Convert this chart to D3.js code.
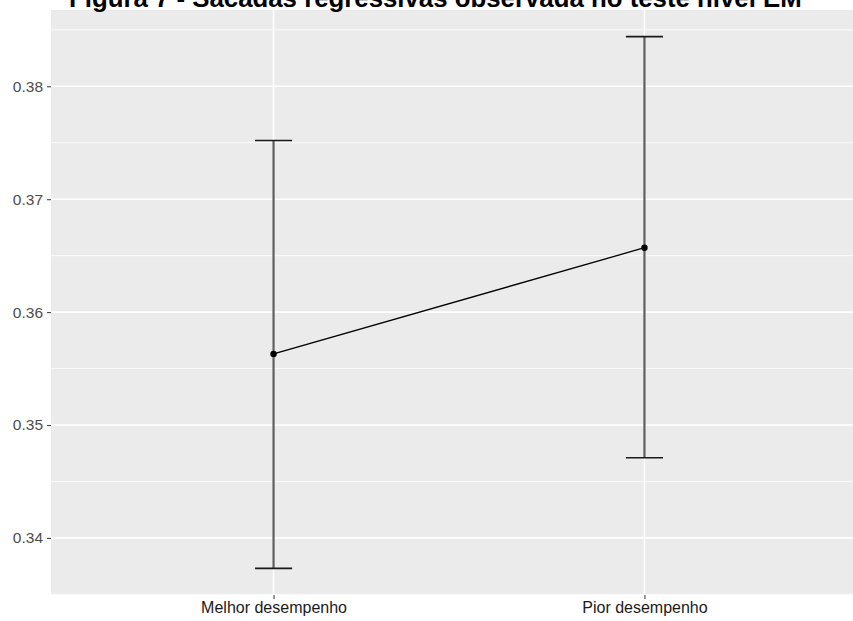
<!DOCTYPE html>
<html>
<head>
<meta charset="utf-8">
<script src="https://cdn.jsdelivr.net/npm/d3@7"></script>
<style>
  html, body { margin: 0; padding: 0; background: #fff; }
  svg { display: block; }
</style>
</head>
<body>
<script>
// Grupos de desempenho e estatísticas (média e intervalo)
const categories = ["Melhor desempenho", "Pior desempenho"];
const means = [0.3563, 0.3657];
const lower = [0.3373, 0.3471];
const upper = [0.3752, 0.3844];
const yTicks = [0.34, 0.35, 0.36, 0.37, 0.38];
const yMinor = [0.335, 0.345, 0.355, 0.365, 0.375, 0.385];
const title = "Figura 7 - Sacadas regressivas observada no teste nível EM";

const W = 853, H = 621;
const panel = { left: 51, right: 867, top: 10, bottom: 595 };

const svg = d3.select("body").append("svg")
  .attr("width", W).attr("height", H)
  .style("font-family", "'Liberation Sans', Arial, sans-serif");

// Escalas
const lo = d3.min(lower), hi = d3.max(upper);
const pad = (hi - lo) * 0.05;
const y = d3.scaleLinear().domain([lo - pad, hi + pad]).range([panel.bottom, panel.top]);
const x = d3.scalePoint().domain(categories).range([panel.left, panel.right]).padding(0.6);

// Fundo do painel
svg.append("rect")
  .attr("x", panel.left).attr("y", panel.top)
  .attr("width", panel.right - panel.left).attr("height", panel.bottom - panel.top)
  .attr("fill", "#ebebeb");

// Grade menor e maior
svg.append("g").selectAll("line").data(yMinor).join("line")
  .attr("x1", panel.left).attr("x2", panel.right)
  .attr("y1", d => y(d)).attr("y2", d => y(d))
  .attr("stroke", "#fff").attr("stroke-width", 0.8);
svg.append("g").selectAll("line").data(yTicks).join("line")
  .attr("x1", panel.left).attr("x2", panel.right)
  .attr("y1", d => y(d)).attr("y2", d => y(d))
  .attr("stroke", "#fff").attr("stroke-width", 1.6);
svg.append("g").selectAll("line").data(categories).join("line")
  .attr("x1", d => x(d)).attr("x2", d => x(d))
  .attr("y1", panel.top).attr("y2", panel.bottom)
  .attr("stroke", "#fff").attr("stroke-width", 1.6);

// Eixo Y
const yAxis = svg.append("g")
  .attr("transform", `translate(${panel.left},0)`)
  .call(d3.axisLeft(y).tickValues(yTicks).tickFormat(d3.format(".2f")).tickSize(4).tickPadding(4));
yAxis.select(".domain").remove();
yAxis.selectAll(".tick line").attr("stroke", "#444").attr("stroke-width", 1.1);
yAxis.selectAll(".tick text")
  .attr("fill", "#4d4d4d").style("font-size", "15.5px")
  .style("font-family", "'Liberation Sans', Arial, sans-serif");

// Eixo X
const xAxis = svg.append("g")
  .attr("transform", `translate(0,${panel.bottom})`)
  .call(d3.axisBottom(x).tickSize(4).tickPadding(3));
xAxis.select(".domain").remove();
xAxis.selectAll(".tick line").attr("stroke", "#444").attr("stroke-width", 1.1);
xAxis.selectAll(".tick text")
  .attr("fill", "#1a1a1a").style("font-size", "16px")
  .style("font-family", "'Liberation Sans', Arial, sans-serif");

// Barras de erro
const rows = categories.map((c, i) => ({ c, m: means[i], lo: lower[i], hi: upper[i] }));
const capHalf = x.step() * 0.05;
const eb = svg.append("g");
eb.selectAll("line.v").data(rows).join("line").attr("class", "v")
  .attr("x1", d => x(d.c)).attr("x2", d => x(d.c))
  .attr("y1", d => y(d.lo)).attr("y2", d => y(d.hi))
  .attr("stroke", "#5e5e5e").attr("stroke-width", 2.2);
["lo", "hi"].forEach(k => {
  eb.selectAll(`line.cap-${k}`).data(rows).join("line").attr("class", `cap-${k}`)
    .attr("x1", d => x(d.c) - capHalf).attr("x2", d => x(d.c) + capHalf)
    .attr("y1", d => y(d[k])).attr("y2", d => y(d[k]))
    .attr("stroke", "#1a1a1a").attr("stroke-width", 1.6);
});

// Linha entre médias e pontos
svg.append("path").datum(rows)
  .attr("d", d3.line().x(d => x(d.c)).y(d => y(d.m)))
  .attr("fill", "none").attr("stroke", "#000").attr("stroke-width", 1.3);
svg.append("g").selectAll("circle").data(rows).join("circle")
  .attr("cx", d => x(d.c)).attr("cy", d => y(d.m)).attr("r", 3.2)
  .attr("fill", "#000");

// Título
svg.append("text")
  .attr("x", 69).attr("y", 7)
  .attr("fill", "#000")
  .style("font-size", "25.8px").style("font-weight", "bold")
  .text(title);
</script>
</body>
</html>
